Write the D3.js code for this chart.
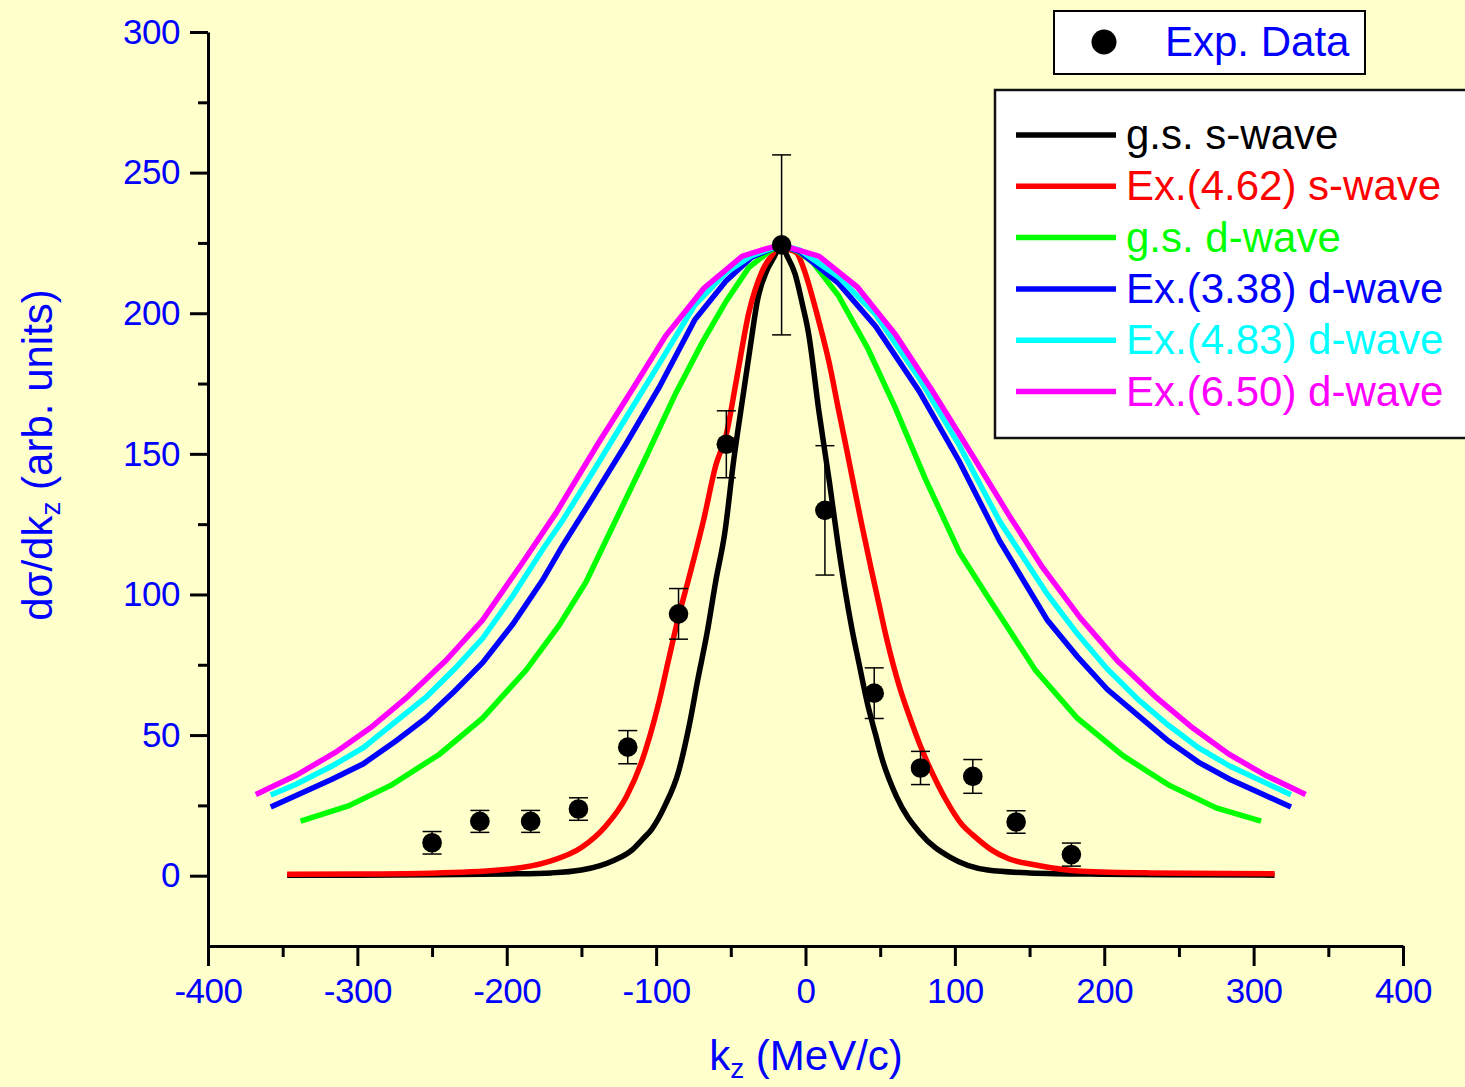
<!DOCTYPE html>
<html>
<head>
<meta charset="utf-8">
<script src="https://cdn.jsdelivr.net/npm/d3@7"></script>
<style>
  body { margin: 0; background: #FFFFCC; }
  svg text { font-family: "Liberation Sans", Arial, sans-serif; }
</style>
</head>
<body>
<svg id="chart" width="1465" height="1087"></svg>
<script>
// tick values
const xMajor = [-400, -300, -200, -100, 0, 100, 200, 300, 400];
const xMinor = [-350, -250, -150, -50, 50, 150, 250, 350];
const yMajor = [0, 50, 100, 150, 200, 250, 300];
const yMinor = [25, 75, 125, 175, 225, 275];

// experimental points (k_z, value, error)
const expK   = [-250, -218, -184, -152, -119, -85, -53, -16, 13, 46, 77, 112, 141, 178];
const expY   = [11.7, 19.3, 19.3, 23.7, 45.7, 93.1, 153.4, 224.3, 129.9, 64.9, 38.3, 35.3, 19.1, 7.5];
const expErr = [4, 3.9, 3.9, 4, 5.9, 9, 11.9, 32, 23, 9, 5.9, 6, 4, 4.1];

// calculated curves, [k_z, value]
const gsSwave = [[-347,0.2],[-300,0.2],[-250,0.3],[-200,0.6],[-170,1.0],[-150,2],[-138,3.5],[-128,5.5],[-116,9.2],
  [-109,13],[-103,16.5],[-94,25],[-85,37],[-78,53],[-72,70],[-66,86],[-60,105],[-54,122],[-48,148],[-42,170],[-37,188],
  [-32,205],[-26,215],[-21,220],[-16.6,224.3],[-12,220],[-7,214],[-2,203],[2,193],[9,165],[16,140],[22,117],
  [27,100],[31,88],[36,75],[42,60],[47,50],[51,42],[61,28],[77,15],[97,6.5],[122,2],[150,1],[200,0.5],[250,0.3],[314,0.2]];
const ex462Swave = [[-347,0.5],[-300,0.6],[-250,0.9],[-205,2],[-172,5],[-150,10],[-134,17.5],[-120,28],[-110,40],
  [-104,50],[-98,62],[-92,76],[-85,92],[-78,106],[-68,127],[-60,146],[-53,157],[-46,177],[-38,200],[-29,215],
  [-22,221],[-16.6,224.3],[-10,222.5],[-6,221.5],[0,214],[5,205],[10,195],[16,182],[22,166],[27,153],[33,137],
  [38,124],[44,109],[49,97],[54,85],[63,67],[70,56],[77,46],[89,32],[94,27],[105,18],[112,14.5],[125,9],[136,6],
  [154,3.8],[185,1.6],[230,1],[314,0.7]];
const gsDwave = [[-338,19.4],[-306,24.8],[-277,32.3],[-245,43.2],[-216,56.1],[-187,73.1],[-165,89],[-147,104.4],
  [-127,126.5],[-107,148.6],[-87,171.4],[-69,189.7],[-53,204.4],[-38,216.2],[-24,222.1],[-16.6,224.3],[-5,222],
  [5,218],[22,206.3],[42,187.2],[60,166.5],[80,141.4],[103,115],[121,100],[132,91],[154,73],[182,56],[213,42.5],
  [243,32.3],[275,24.1],[305,19.4]];
const ex338Dwave = [[-358,24.4],[-341,28.5],[-317,34.3],[-296,39.8],[-274,48],[-254,56.1],[-235,65.6],[-216,75.8],
  [-196,89.4],[-176,105.1],[-163,117],[-143,133.9],[-120,153.7],[-98,173.6],[-74,197.8],[-53,211.6],[-36,219.9],
  [-16.6,224.3],[-4,222],[22,210.7],[47,195.3],[76,172.4],[103,147.3],[130,119],[162,90.8],[182,77.9],[202,66.3],
  [223,56.8],[243,47.9],[263,40.4],[284,34.3],[308,28.5],[325,24.4]];
const ex483Dwave = [[-358,28.7],[-341,32.5],[-317,39],[-296,45.5],[-274,55],[-254,63.5],[-235,73.5],[-216,84.5],
  [-196,99.5],[-176,116],[-163,126],[-143,143],[-120,163],[-98,182],[-74,203],[-53,214.5],[-36,220.5],[-16.6,224.3],
  [-4,222.5],[22,213],[47,199.5],[76,177],[103,153],[130,126],[162,100],[182,86],[202,73.5],[223,62.5],[243,53.5],
  [263,45.5],[284,39],[308,33],[325,28.8]];
const ex650Dwave = [[-368,28.9],[-341,35.7],[-314.5,43.9],[-291,52.7],[-266.5,63.6],[-240.8,76.5],[-216.3,90.8],
  [-189.6,111.2],[-167,129],[-138,154.4],[-117,172],[-93.6,192],[-68,208.9],[-42.3,220.3],[-26.6,222.9],
  [-16.6,224.3],[9,220.3],[34.7,209.3],[60.4,192.3],[84.9,172.4],[111.7,149.5],[136.2,128.2],[158.5,109.8],
  [184.2,91.5],[208.7,76.5],[234.4,63.6],[258.9,52.7],[283.5,43.2],[308,35.7],[334.8,28.9]];

const seriesNames = ["g.s. s-wave", "Ex.(4.62) s-wave", "g.s. d-wave", "Ex.(3.38) d-wave", "Ex.(4.83) d-wave", "Ex.(6.50) d-wave"];
const seriesData = [gsSwave, ex462Swave, gsDwave, ex338Dwave, ex483Dwave, ex650Dwave];
const seriesColors = ["#000000", "#FF0000", "#00FF00", "#0000FF", "#00FFFF", "#FF00FF"];

const svg = d3.select("#chart");

svg.append("rect").attr("width", 1465).attr("height", 1087).attr("fill", "#FFFFCC");

const x = d3.scaleLinear().domain([-400, 400]).range([208, 1403]);
const y = d3.scaleLinear().domain([-25, 300]).range([946, 32]);

// curves (s-wave ones were sampled finely, so smooth them)
const lineSmooth = d3.line().x(d => x(d[0])).y(d => y(d[1])).curve(d3.curveMonotoneX);
const lineStraight = d3.line().x(d => x(d[0])).y(d => y(d[1]));
seriesData.forEach((data, i) => {
  svg.append("path")
    .datum(data)
    .attr("d", i < 2 ? lineSmooth : lineStraight)
    .attr("fill", "none")
    .attr("stroke", seriesColors[i])
    .attr("stroke-width", 5.5);
});

// x axis
const xAxisG = svg.append("g")
  .attr("transform", `translate(0,${y(-25)})`)
  .call(d3.axisBottom(x).tickValues(xMajor).tickSize(20).tickSizeOuter(0).tickPadding(12));
svg.append("g")
  .attr("transform", `translate(0,${y(-25)})`)
  .call(d3.axisBottom(x).tickValues(xMinor).tickSize(11).tickSizeOuter(0).tickFormat(""))
  .select(".domain").remove();

// y axis
const yAxisG = svg.append("g")
  .attr("transform", `translate(${x(-400)},0)`)
  .call(d3.axisLeft(y).tickValues(yMajor).tickSize(18).tickSizeOuter(0).tickPadding(10));
svg.append("g")
  .attr("transform", `translate(${x(-400)},0)`)
  .call(d3.axisLeft(y).tickValues(yMinor).tickSize(10).tickSizeOuter(0).tickFormat(""))
  .select(".domain").remove();

svg.selectAll(".domain, .tick line").attr("stroke", "#000").attr("stroke-width", 3);
svg.selectAll(".tick text").attr("fill", "#0000FF").attr("font-size", 35)
  .attr("letter-spacing", -0.5)
  .attr("font-family", "'Liberation Sans', Arial, sans-serif");
xAxisG.selectAll(".tick text").text(d => d < 0 ? "-" + Math.abs(d) : d);

// axis titles
const xTitle = svg.append("text")
  .attr("x", 806).attr("y", 1070)
  .attr("text-anchor", "middle")
  .attr("fill", "#0000FF").attr("font-size", 42);
xTitle.append("tspan").text("k");
xTitle.append("tspan").attr("font-size", 28).attr("dy", 8).text("z");
xTitle.append("tspan").attr("dy", -8).text(" (MeV/c)");

const yTitle = svg.append("text")
  .attr("transform", "translate(52,455) rotate(-90)")
  .attr("text-anchor", "middle")
  .attr("fill", "#0000FF").attr("font-size", 42);
yTitle.append("tspan").text("dσ/dk");
yTitle.append("tspan").attr("font-size", 28).attr("dy", 8).text("z");
yTitle.append("tspan").attr("dy", -8).text(" (arb. units)");

// experimental points with error bars
const pts = svg.append("g");
expK.forEach((k, i) => {
  const cx = x(k), top = y(expY[i] + expErr[i]), bot = y(expY[i] - expErr[i]);
  pts.append("line").attr("x1", cx).attr("x2", cx).attr("y1", top).attr("y2", bot)
    .attr("stroke", "#000").attr("stroke-width", 1.5);
  [top, bot].forEach(v => pts.append("line")
    .attr("x1", cx - 9.5).attr("x2", cx + 9.5).attr("y1", v).attr("y2", v)
    .attr("stroke", "#000").attr("stroke-width", 1.5));
  pts.append("circle").attr("cx", cx).attr("cy", y(expY[i])).attr("r", 9.8).attr("fill", "#000");
});

// legend for data
const leg1 = svg.append("g");
leg1.append("rect").attr("x", 1054).attr("y", 11).attr("width", 311).attr("height", 63)
  .attr("fill", "#fff").attr("stroke", "#000").attr("stroke-width", 2);
leg1.append("circle").attr("cx", 1104).attr("cy", 42).attr("r", 12.5).attr("fill", "#000");
leg1.append("text").attr("x", 1165).attr("y", 56).attr("fill", "#0000FF").attr("font-size", 42).text("Exp. Data");

// legend for curves
const leg2 = svg.append("g");
leg2.append("rect").attr("x", 995).attr("y", 90).attr("width", 480).attr("height", 348)
  .attr("fill", "#fff").attr("stroke", "#111").attr("stroke-width", 2.5);
seriesNames.forEach((name, i) => {
  const ly = 135 + i * 51.3;
  leg2.append("line").attr("x1", 1016).attr("x2", 1116).attr("y1", ly).attr("y2", ly)
    .attr("stroke", seriesColors[i]).attr("stroke-width", 5.5);
  leg2.append("text").attr("x", 1126).attr("y", ly + 14)
    .attr("fill", seriesColors[i]).attr("font-size", 42).text(name);
});
</script>
</body>
</html>
